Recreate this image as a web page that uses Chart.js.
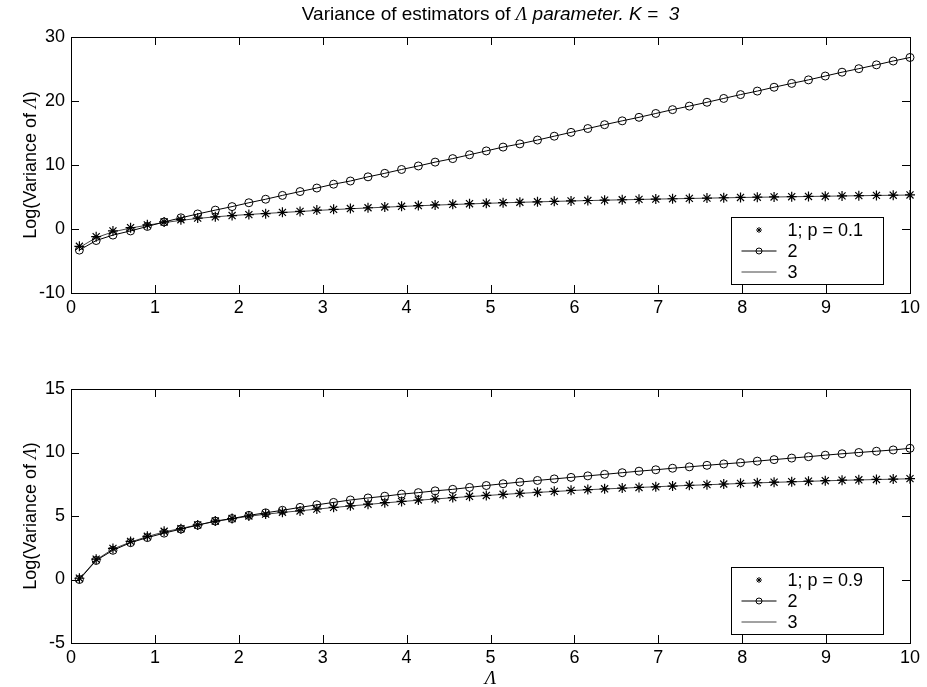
<!DOCTYPE html>
<html>
<head>
<meta charset="utf-8">
<script src="https://cdn.jsdelivr.net/npm/chart.js@4.4.1/dist/chart.umd.min.js"></script>
<style>
  body { margin: 0; background: #fff; }
  canvas { display: block; }
</style>
</head>
<body>
<canvas id="topchart" width="927" height="343"></canvas>
<canvas id="botchart" width="927" height="344"></canvas>
<script>
// lambda values (x)
var lambdaVals = [0.10, 0.30, 0.50, 0.71, 0.91, 1.11, 1.31, 1.51, 1.72, 1.92,
  2.12, 2.32, 2.52, 2.73, 2.93, 3.13, 3.33, 3.54, 3.74, 3.94,
  4.14, 4.34, 4.55, 4.75, 4.95, 5.15, 5.35, 5.56, 5.76, 5.96,
  6.16, 6.36, 6.57, 6.77, 6.97, 7.17, 7.37, 7.58, 7.78, 7.98,
  8.18, 8.38, 8.59, 8.79, 8.99, 9.19, 9.39, 9.60, 9.80, 10.00];

// top plot, p = 0.1
var topStar = [-2.7, -1.2, -0.3, 0.2, 0.65, 1.1, 1.45, 1.7, 1.9, 2.1,
  2.25, 2.4, 2.6, 2.75, 2.95, 3.07, 3.2, 3.32, 3.44, 3.55,
  3.66, 3.76, 3.86, 3.95, 4.03, 4.11, 4.18, 4.25, 4.32, 4.39,
  4.45, 4.51, 4.57, 4.63, 4.68, 4.73, 4.78, 4.83, 4.88, 4.93,
  4.97, 5.01, 5.05, 5.09, 5.13, 5.17, 5.21, 5.25, 5.28, 5.32];
var topCircle = [-3.3, -1.8, -0.95, -0.3, 0.4, 1.1, 1.75, 2.35, 2.95, 3.5,
  4.1, 4.65, 5.25, 5.85, 6.4, 7.0, 7.5, 8.15, 8.7, 9.3,
  9.85, 10.45, 11.0, 11.6, 12.2, 12.8, 13.3, 13.9, 14.5, 15.1,
  15.7, 16.3, 16.9, 17.45, 18.05, 18.65, 19.2, 19.8, 20.4, 21.0,
  21.55, 22.15, 22.75, 23.3, 23.9, 24.5, 25.05, 25.65, 26.25, 26.8];
var topLine = [-2.9, -1.35, -0.45, 0.15, 0.6, 1.0, 1.35, 1.65, 1.9, 2.1,
  2.27, 2.43, 2.58, 2.73, 2.9, 3.03, 3.16, 3.29, 3.41, 3.52,
  3.63, 3.73, 3.83, 3.92, 4.01, 4.09, 4.17, 4.24, 4.31, 4.38,
  4.44, 4.5, 4.56, 4.62, 4.67, 4.72, 4.77, 4.82, 4.87, 4.92,
  4.96, 5.0, 5.04, 5.08, 5.12, 5.16, 5.2, 5.24, 5.27, 5.31];

// bottom plot, p = 0.9
var botStar = [0.1, 1.6, 2.45, 3.0, 3.4, 3.8, 4.0, 4.3, 4.6, 4.8,
  5.0, 5.15, 5.3, 5.4, 5.55, 5.68, 5.8, 5.93, 6.05, 6.15,
  6.26, 6.35, 6.45, 6.55, 6.62, 6.71, 6.79, 6.87, 6.94, 7.02,
  7.08, 7.14, 7.2, 7.25, 7.3, 7.36, 7.42, 7.47, 7.52, 7.57,
  7.62, 7.66, 7.7, 7.74, 7.78, 7.82, 7.85, 7.88, 7.91, 7.94];
var botCircle = [0.0, 1.5, 2.3, 2.9, 3.3, 3.65, 3.97, 4.28, 4.6, 4.8,
  5.05, 5.25, 5.45, 5.68, 5.88, 6.07, 6.26, 6.42, 6.56, 6.72,
  6.84, 6.98, 7.1, 7.25, 7.4, 7.54, 7.67, 7.8, 7.92, 8.04,
  8.16, 8.28, 8.41, 8.53, 8.64, 8.76, 8.87, 8.99, 9.1, 9.2,
  9.32, 9.44, 9.56, 9.67, 9.79, 9.9, 10.0, 10.1, 10.2, 10.33];
var botLine = [0.05, 1.55, 2.4, 2.95, 3.38, 3.75, 4.02, 4.3, 4.57, 4.78,
  4.98, 5.14, 5.28, 5.41, 5.54, 5.67, 5.79, 5.91, 6.03, 6.14,
  6.24, 6.34, 6.44, 6.53, 6.61, 6.7, 6.78, 6.86, 6.93, 7.0,
  7.07, 7.13, 7.19, 7.25, 7.3, 7.36, 7.41, 7.46, 7.51, 7.56,
  7.61, 7.65, 7.69, 7.73, 7.77, 7.81, 7.84, 7.87, 7.9, 7.93];

var xTicks = [0, 1, 2, 3, 4, 5, 6, 7, 8, 9, 10];
var topYTicks = [-10, 0, 10, 20, 30];
var botYTicks = [-5, 0, 5, 10, 15];

var SANS = '"Liberation Sans", Arial, sans-serif';
var SERIF = '"Liberation Serif", "Times New Roman", serif';

function pts(ys) {
  return lambdaVals.map(function (x, i) { return {x: x, y: ys[i]}; });
}

// draws a row of text pieces with different fonts, centred on (cx, cy)
function richText(ctx, parts, cx, cy, rotate) {
  ctx.save();
  ctx.translate(cx, cy);
  if (rotate) ctx.rotate(-Math.PI / 2);
  ctx.fillStyle = '#000';
  ctx.textBaseline = 'alphabetic';
  ctx.textAlign = 'left';
  var total = 0;
  parts.forEach(function (p) { ctx.font = p.font; total += ctx.measureText(p.text).width; });
  var x = -total / 2;
  parts.forEach(function (p) {
    ctx.font = p.font;
    ctx.fillText(p.text, x, 0);
    x += ctx.measureText(p.text).width;
  });
  ctx.restore();
}

// box round the axes with inward ticks on all four sides
var framePlugin = {
  id: 'frame',
  afterDraw: function (chart, args, opts) {
    var ctx = chart.ctx, a = chart.chartArea;
    var xs = chart.scales.x, ys = chart.scales.y;
    var len = 8;
    ctx.save();
    ctx.strokeStyle = '#000';
    ctx.lineWidth = 1;
    ctx.strokeRect(Math.round(a.left) + 0.5, Math.round(a.top) + 0.5,
      Math.round(a.right - a.left), Math.round(a.bottom - a.top));
    ctx.beginPath();
    xTicks.forEach(function (v) {
      var px = Math.round(xs.getPixelForValue(v)) + 0.5;
      ctx.moveTo(px, a.bottom); ctx.lineTo(px, a.bottom - len);
      ctx.moveTo(px, a.top); ctx.lineTo(px, a.top + len);
    });
    opts.yTicks.forEach(function (v) {
      var py = Math.round(ys.getPixelForValue(v)) + 0.5;
      ctx.moveTo(a.left, py); ctx.lineTo(a.left + len, py);
      ctx.moveTo(a.right, py); ctx.lineTo(a.right - len, py);
    });
    ctx.stroke();
    ctx.restore();
  }
};

// matlab style legend box in the lower right corner of the axes
var boxLegend = {
  id: 'boxLegend',
  afterDraw: function (chart) {
    var ctx = chart.ctx, a = chart.chartArea;
    var w = 152, h = 67;
    var x0 = Math.round(a.right - 27 - w) + 0.5;
    var y0 = Math.round(a.bottom - 9 - h) + 0.5;
    ctx.save();
    ctx.fillStyle = '#fff';
    ctx.fillRect(x0, y0, w, h);
    ctx.strokeStyle = '#000';
    ctx.lineWidth = 1;
    ctx.strokeRect(x0, y0, w, h);
    chart.data.datasets.forEach(function (ds, i) {
      var ry = y0 + 12.5 + i * 21;
      if (ds.showLine !== false) {
        ctx.strokeStyle = ds.borderColor;
        ctx.lineWidth = ds.borderWidth;
        ctx.beginPath();
        ctx.moveTo(x0 + 10, ry); ctx.lineTo(x0 + 45, ry);
        ctx.stroke();
      }
      if (ds.pointRadius > 0) {
        ctx.strokeStyle = ds.pointBorderColor;
        ctx.fillStyle = 'rgba(0,0,0,0)';
        Chart.helpers.drawPoint(ctx, {
          pointStyle: ds.pointStyle, radius: 3, borderWidth: 1, rotation: 0
        }, x0 + 27.5, ry);
      }
      ctx.fillStyle = '#000';
      ctx.font = '18px ' + SANS;
      ctx.textBaseline = 'middle';
      ctx.fillText(ds.label, x0 + 56, ry + 1);
    });
    ctx.restore();
  }
};

var axisText = {
  id: 'axisText',
  afterDraw: function (chart, args, opts) {
    var ctx = chart.ctx, a = chart.chartArea;
    richText(ctx, [
      {text: 'Log(Variance of ', font: '18px ' + SANS},
      {text: 'Λ', font: 'italic 18px ' + SERIF},
      {text: ')', font: '18px ' + SANS}
    ], 36, (a.top + a.bottom) / 2, true);
    if (opts.title) {
      richText(ctx, [
        {text: 'Variance of estimators of ', font: '19px ' + SANS},
        {text: 'Λ', font: 'italic 19px ' + SERIF},
        {text: ' parameter. K =  3', font: 'italic 19px ' + SANS}
      ], (a.left + a.right) / 2, 20, false);
    }
    if (opts.xlabel) {
      richText(ctx, [{text: 'Λ', font: 'italic 19px ' + SERIF}],
        (a.left + a.right) / 2, 341, false);
    }
  }
};

function makeChart(id, label1, s1, s2, s3, ymin, ymax, ystep, yTicks, padTop, xHeight, extra) {
  return new Chart(document.getElementById(id), {
    type: 'line',
    data: {
      datasets: [{
        label: label1,
        data: pts(s1),
        showLine: false,
        pointStyle: 'star',
        pointRadius: 5,
        pointBorderWidth: 1.2,
        pointBorderColor: '#000',
        borderColor: '#000',
        borderWidth: 1,
        clip: false
      }, {
        label: '2',
        data: pts(s2),
        borderColor: '#000',
        borderWidth: 1,
        pointStyle: 'circle',
        pointRadius: 4,
        pointBorderWidth: 1,
        pointBorderColor: '#000',
        pointBackgroundColor: 'rgba(0,0,0,0)',
        tension: 0,
        clip: false
      }, {
        label: '3',
        data: pts(s3),
        borderColor: '#444',
        borderWidth: 1,
        pointRadius: 0,
        tension: 0,
        clip: false
      }]
    },
    options: {
      responsive: false,
      animation: false,
      events: [],
      layout: {padding: {left: 0, right: 17, top: padTop, bottom: 0}},
      plugins: {
        legend: {display: false},
        title: {display: false},
        tooltip: {enabled: false},
        frame: {yTicks: yTicks},
        axisText: extra
      },
      scales: {
        x: {
          type: 'linear', min: 0, max: 10,
          ticks: {stepSize: 1, color: '#000', padding: 4, maxRotation: 0, font: {family: SANS, size: 18}},
          grid: {display: false, drawTicks: false},
          border: {display: false},
          afterFit: function (s) { s.height = xHeight; }
        },
        y: {
          min: ymin, max: ymax,
          ticks: {stepSize: ystep, color: '#000', padding: 6, font: {family: SANS, size: 18}},
          grid: {display: false, drawTicks: false},
          border: {display: false},
          afterFit: function (s) { s.width = 71; }
        }
      }
    },
    plugins: [framePlugin, boxLegend, axisText]
  });
}

makeChart('topchart', '1; p = 0.1', topStar, topCircle, topLine, -10, 30, 10, topYTicks, 37, 50, {title: true});
makeChart('botchart', '1; p = 0.9', botStar, botCircle, botLine, -5, 15, 5, botYTicks, 46, 44, {xlabel: true});
</script>
</body>
</html>
